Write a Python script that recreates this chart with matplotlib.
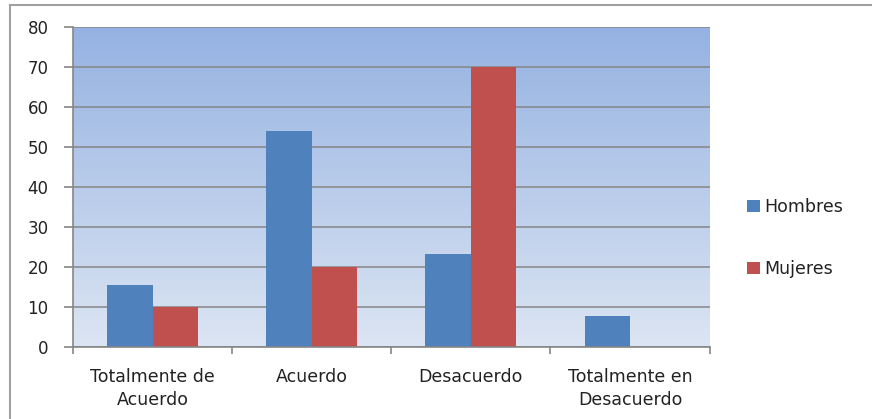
import numpy as np
import matplotlib
matplotlib.use('Agg')
import matplotlib.pyplot as plt
from matplotlib.lines import Line2D
from matplotlib.colors import LinearSegmentedColormap

categorias = ['Totalmente de\nAcuerdo', 'Acuerdo', 'Desacuerdo', 'Totalmente en\nDesacuerdo']
hombres = [15.5, 54, 23.3, 7.7]
mujeres = [10, 20, 70, 0]
series = ['Hombres', 'Mujeres']
colores = ['#4F81BD', '#C0504D']
yticks = [0, 10, 20, 30, 40, 50, 60, 70, 80]

plt.rcParams['font.family'] = ['DejaVu Sans']

fig = plt.figure(figsize=(8.72, 4.19), dpi=100)
ax = fig.add_axes([0.0837, 0.172, 0.730, 0.7636])

# plot area gradient
cmap = LinearSegmentedColormap.from_list('grad', ['#DCE5F3', '#95B2E2'])
grad = np.linspace(0, 1, 256).reshape(-1, 1)
ax.imshow(grad, cmap=cmap, aspect='auto', extent=(-0.5, 3.5, 0, 80),
          origin='lower', zorder=0)

x = np.arange(len(categorias))
w = 0.285
ax.bar(x - w / 2, hombres, w, color=colores[0], label=series[0], zorder=3)
ax.bar(x + w / 2, mujeres, w, color=colores[1], label=series[1], zorder=3)

ax.set_xlim(-0.5, 3.5)
ax.set_ylim(0, 80)
ax.set_yticks(yticks)
ax.set_xticks(x)
ax.set_xticklabels(categorias, fontsize=12.5, color='#222222')
ax.set_xticks(np.arange(-0.5, 4, 1), minor=True)
ax.tick_params(axis='x', which='major', length=0, pad=15)
ax.tick_params(axis='x', which='minor', length=5, color='#868686', width=1.2)
ax.tick_params(axis='y', length=6.5, color='#868686', width=1.2, labelsize=12,
               labelcolor='#222222', pad=11)
for t in ax.get_xticklabels():
    t.set_linespacing(1.35)

ax.grid(axis='y', color='#868686', linewidth=1.1, zorder=1)
for s in ['top', 'right']:
    ax.spines[s].set_visible(False)
for s in ['left', 'bottom']:
    ax.spines[s].set_color('#868686')
    ax.spines[s].set_linewidth(1.2)
    ax.spines[s].set_zorder(4)

leg = ax.legend(loc='center left', bbox_to_anchor=(1.035, 0.34), frameon=False,
                handlelength=0.7, handleheight=0.7, handletextpad=0.25,
                labelspacing=2.5, fontsize=12.5)
for t in leg.get_texts():
    t.set_color('#222222')

# outer chart border (top and left only visible)
fig.add_artist(Line2D([10 / 872, 1], [1 - 5 / 419, 1 - 5 / 419], color='#A0A0A0', lw=1.5))
fig.add_artist(Line2D([10 / 872, 10 / 872], [0, 1 - 5 / 419], color='#A0A0A0', lw=1.5))

fig.savefig('out.png', dpi=100)
